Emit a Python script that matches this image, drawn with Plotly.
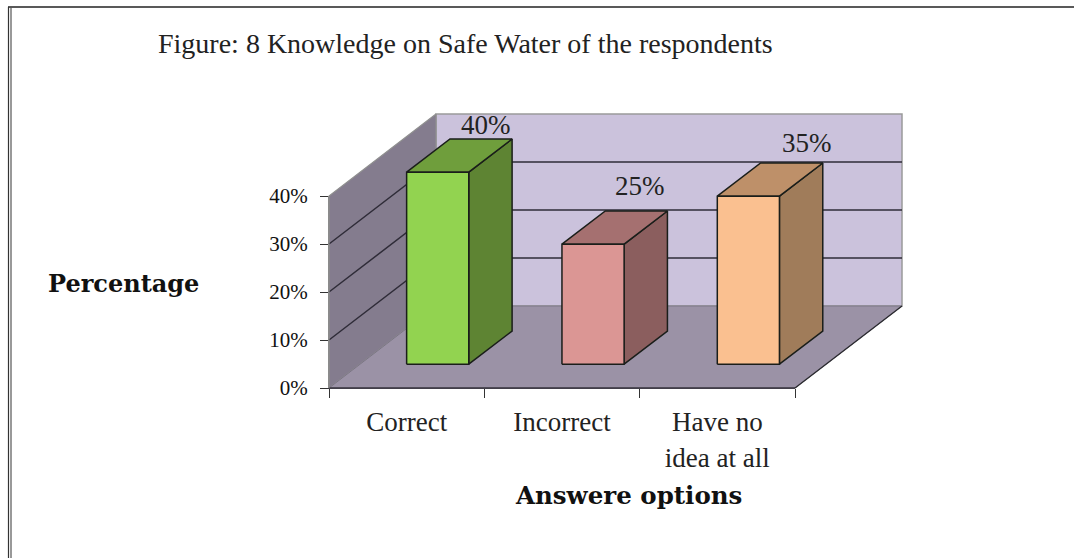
import plotly.graph_objects as go

categories = ["Correct", "Incorrect", "Have no<br>idea at all"]
values = [40, 25, 35]
value_labels = ["40%", "25%", "35%"]
y_ticks = [0, 10, 20, 30, 40]
y_tick_labels = ["0%", "10%", "20%", "30%", "40%"]

W, H = 1074, 558
AX_L, AX_R, AX_B, AX_T = 329, 795, 388, 196
CAT_MIN, CAT_MAX = -0.5, 2.5
V_MAX = 40
PX_PER_CAT = (AX_R - AX_L) / (CAT_MAX - CAT_MIN)
PX_PER_VAL = (AX_B - AX_T) / V_MAX
# oblique depth: full floor depth in axis units
DX = 107 / PX_PER_CAT
DY = 82 / PX_PER_VAL
BAR_HALF = 0.2
D_FRONT, D_BACK = 0.29, 0.695
SERIF = "Liberation Serif"
SERIF_BOLD = "DejaVu Serif"
EDGE = "#1a1e1a"


def pr(cat, val, depth=0.0):
    return cat + depth * DX, val + depth * DY


def poly(points, fill, line, width=1.0):
    xs, ys = zip(*(points + points[:1]))
    return go.Scatter(
        x=xs, y=ys, xaxis="x2", yaxis="y2", mode="lines", fill="toself",
        fillcolor=fill, line=dict(color=line, width=width),
        hoverinfo="skip", showlegend=False,
    )


def seg(points, color, width=1.2):
    xs, ys = zip(*points)
    return go.Scatter(
        x=xs, y=ys, xaxis="x2", yaxis="y2", mode="lines",
        line=dict(color=color, width=width),
        hoverinfo="skip", showlegend=False,
    )


fig = go.Figure()

# hidden trace that carries the categorical axis
fig.add_trace(go.Scatter(x=categories, y=values, xaxis="x", yaxis="y", mode="markers",
                         marker=dict(opacity=0), hoverinfo="skip", showlegend=False))

# walls and floor
fig.add_trace(poly([pr(CAT_MIN, 0, 1), pr(CAT_MAX, 0, 1), pr(CAT_MAX, V_MAX, 1), pr(CAT_MIN, V_MAX, 1)],
                   "#CBC2DC", "#9a9a9a", 1.5))
fig.add_trace(poly([pr(CAT_MIN, 0, 0), pr(CAT_MIN, 0, 1), pr(CAT_MIN, V_MAX, 1), pr(CAT_MIN, V_MAX, 0)],
                   "#847C8E", "#8f8f8f", 1.2))
fig.add_trace(poly([pr(CAT_MIN, 0, 0), pr(CAT_MAX, 0, 0), pr(CAT_MAX, 0, 1), pr(CAT_MIN, 0, 1)],
                   "#9B92A6", "#7c7686", 1.0))
fig.add_trace(seg([pr(CAT_MAX, 0, 0), pr(CAT_MAX, 0, 1)], "#2b2b30", 1.3))
fig.add_trace(seg([pr(CAT_MIN, 0, 0), pr(CAT_MAX, 0, 0)], "#3a3740", 1.5))

# gridlines on both walls
for t in y_ticks[1:-1]:
    fig.add_trace(seg([pr(CAT_MIN, t, 0), pr(CAT_MIN, t, 1), pr(CAT_MAX, t, 1)], "#2f2c38", 1.5))
fig.add_trace(seg([pr(CAT_MIN, 0, 0), pr(CAT_MIN, V_MAX, 0)], "#8a8a8a", 1.2))

# bars
bar_colours = [
    ("#92D350", "#5E8433", "#6F9E3C"),
    ("#DB9694", "#8B5E5E", "#A57070"),
    ("#FAC090", "#A07C5A", "#BE9069"),
]
for i, (v, (front, side, top)) in enumerate(zip(values, bar_colours)):
    l, r = i - BAR_HALF, i + BAR_HALF
    fig.add_trace(poly([pr(r, 0, D_FRONT), pr(r, 0, D_BACK), pr(r, v, D_BACK), pr(r, v, D_FRONT)], side, EDGE, 1.5))
    fig.add_trace(poly([pr(l, v, D_FRONT), pr(r, v, D_FRONT), pr(r, v, D_BACK), pr(l, v, D_BACK)], top, EDGE, 1.5))
    fig.add_trace(poly([pr(l, 0, D_FRONT), pr(r, 0, D_FRONT), pr(r, v, D_FRONT), pr(l, v, D_FRONT)], front, EDGE, 1.5))

annotations = []
# data labels sit above the back of each bar's top face
label_shift = [(5, 14), (4, 25), (15, 20)]
for i, (v, lab, (sx, sy)) in enumerate(zip(values, value_labels, label_shift)):
    x, y = pr(i, v, D_BACK)
    annotations.append(dict(x=x, y=y, xref="x2", yref="y2", text=lab, showarrow=False,
                            xshift=sx, yshift=sy, font=dict(family=SERIF, size=27, color="#222222")))


def paper_text(cx, cy, text, family, size, color):
    return dict(x=cx / W, y=1 - cy / H, xref="paper", yref="paper", xanchor="center", yanchor="middle",
                text=text, showarrow=False, font=dict(family=family, size=size, color=color))


annotations += [
    paper_text(465, 44, "Figure: 8 Knowledge on Safe Water of the respondents", SERIF, 28, "#222222"),
    paper_text(123, 283, "<b>Percentage</b>", SERIF_BOLD, 24, "#111111"),
    paper_text(628, 495, "<b>Answere options</b>", SERIF_BOLD, 24.5, "#111111"),
]

fig.update_layout(
    width=W, height=H, autosize=False,
    margin=dict(l=0, r=0, t=0, b=0, pad=0),
    paper_bgcolor="white", plot_bgcolor="rgba(0,0,0,0)",
    xaxis=dict(
        type="category", categoryorder="array", categoryarray=categories,
        domain=[AX_L / W, AX_R / W], range=[CAT_MIN, CAT_MAX], anchor="y", automargin=False,
        tickson="boundaries", ticks="outside", ticklen=9, tickwidth=1.2, tickcolor="#333333",
        showline=True, linecolor="#3a3740", linewidth=1, showgrid=False, zeroline=False,
        tickfont=dict(family=SERIF, size=27, color="#222222"), ticklabelstandoff=10,
    ),
    yaxis=dict(
        domain=[1 - AX_B / H, 1 - AX_T / H], range=[0, V_MAX], anchor="x", automargin=False,
        tickmode="array", tickvals=y_ticks, ticktext=y_tick_labels,
        ticks="outside", ticklen=8, tickwidth=1.2, tickcolor="#333333",
        showline=True, linecolor="#8a8a8a", linewidth=1, showgrid=False, zeroline=False,
        tickfont=dict(family=SERIF, size=21, color="#111111"), ticklabelstandoff=8,
    ),
    # full-page overlay in the same data units, so the oblique depth can leave the axes' box
    xaxis2=dict(domain=[0, 1], anchor="y2", visible=False, automargin=False,
                range=[CAT_MIN - AX_L / PX_PER_CAT, CAT_MIN + (W - AX_L) / PX_PER_CAT]),
    yaxis2=dict(domain=[0, 1], anchor="x2", visible=False, automargin=False,
                range=[(AX_B - H) / PX_PER_VAL, AX_B / PX_PER_VAL]),
    annotations=annotations,
    shapes=[
        dict(type="line", xref="paper", yref="paper", x0=8 / W, x1=1, y0=1 - 7 / H, y1=1 - 7 / H,
             line=dict(color="#222222", width=1.5)),
        dict(type="line", xref="paper", yref="paper", x0=8.5 / W, x1=8.5 / W, y0=0, y1=1 - 7 / H,
             line=dict(color="#333333", width=1.2)),
        dict(type="line", xref="paper", yref="paper", x0=11 / W, x1=11 / W, y0=0, y1=1 - 7 / H,
             line=dict(color="#555555", width=1.2)),
    ],
)

fig.write_html("out.html", config={"displayModeBar": False}, post_script="document.body.style.margin='0';")
